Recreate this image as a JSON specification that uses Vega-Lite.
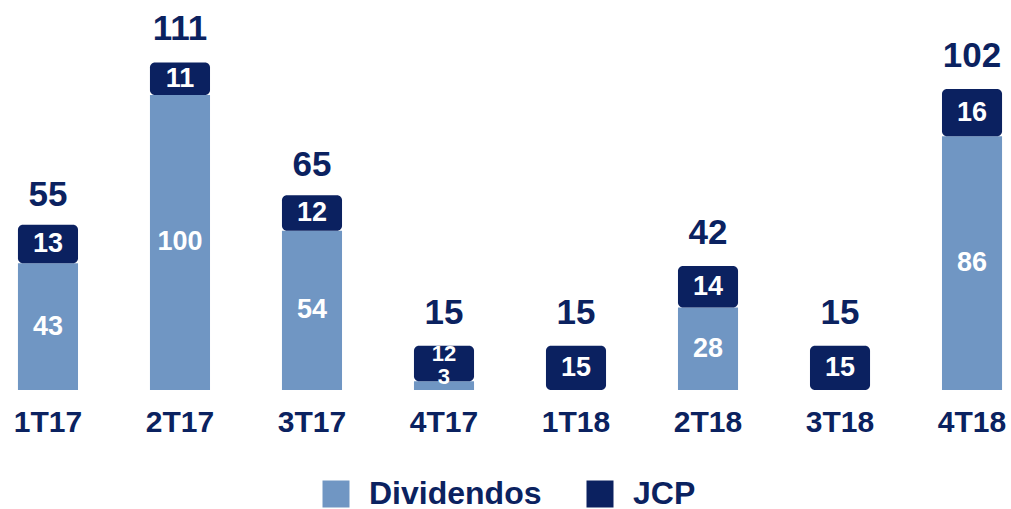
{
  "$schema": "https://vega.github.io/schema/vega-lite/v6.json",
  "width": 1020,
  "height": 370,
  "autosize": {"type": "none"},
  "padding": {"left": 0, "top": 20, "right": 0, "bottom": 119},
  "background": "white",
  "config": {
    "view": {"stroke": null},
    "font": "Liberation Sans"
  },
  "datasets": {
    "parts": [
      {"trimestre": "1T17", "serie": "Dividendos", "ordem": 1, "valor": 43},
      {"trimestre": "1T17", "serie": "JCP", "ordem": 2, "valor": 13},
      {"trimestre": "2T17", "serie": "Dividendos", "ordem": 1, "valor": 100},
      {"trimestre": "2T17", "serie": "JCP", "ordem": 2, "valor": 11},
      {"trimestre": "3T17", "serie": "Dividendos", "ordem": 1, "valor": 54},
      {"trimestre": "3T17", "serie": "JCP", "ordem": 2, "valor": 12},
      {"trimestre": "4T17", "serie": "Dividendos", "ordem": 1, "valor": 3},
      {"trimestre": "4T17", "serie": "JCP", "ordem": 2, "valor": 12},
      {"trimestre": "1T18", "serie": "Dividendos", "ordem": 1, "valor": 0},
      {"trimestre": "1T18", "serie": "JCP", "ordem": 2, "valor": 15},
      {"trimestre": "2T18", "serie": "Dividendos", "ordem": 1, "valor": 28},
      {"trimestre": "2T18", "serie": "JCP", "ordem": 2, "valor": 14},
      {"trimestre": "3T18", "serie": "Dividendos", "ordem": 1, "valor": 0},
      {"trimestre": "3T18", "serie": "JCP", "ordem": 2, "valor": 15},
      {"trimestre": "4T18", "serie": "Dividendos", "ordem": 1, "valor": 86},
      {"trimestre": "4T18", "serie": "JCP", "ordem": 2, "valor": 16}
    ],
    "totals": [
      {"trimestre": "1T17", "total": 55},
      {"trimestre": "2T17", "total": 111},
      {"trimestre": "3T17", "total": 65},
      {"trimestre": "4T17", "total": 15},
      {"trimestre": "1T18", "total": 15},
      {"trimestre": "2T18", "total": 42},
      {"trimestre": "3T18", "total": 15},
      {"trimestre": "4T18", "total": 102}
    ]
  },
  "encoding": {
    "x": {
      "field": "trimestre",
      "type": "nominal",
      "sort": ["1T17", "2T17", "3T17", "4T17", "1T18", "2T18", "3T18", "4T18"],
      "scale": {"paddingInner": 0.545, "paddingOuter": 0.136},
      "axis": {
        "title": null,
        "domain": false,
        "ticks": false,
        "labelAngle": 0,
        "labelFont": "Liberation Sans",
        "labelFontWeight": "bold",
        "labelFontSize": 30,
        "labelColor": "#0b2260",
        "labelPadding": 17
      }
    }
  },
  "layer": [
    {
      "data": {"name": "parts"},
      "transform": [
        {"stack": "valor", "groupby": ["trimestre"], "sort": [{"field": "ordem"}], "as": ["y0", "y1"]},
        {"filter": "datum.serie === 'Dividendos'"}
      ],
      "mark": {"type": "bar"},
      "encoding": {
        "y": {"field": "y0", "type": "quantitative", "scale": {"domain": [0, 125.4], "nice": false, "zero": true}, "axis": null},
        "y2": {"field": "y1"},
        "color": {
          "field": "serie",
          "type": "nominal",
          "scale": {"domain": ["Dividendos", "JCP"], "range": ["#7096c3", "#0b2160"]},
          "legend": {
            "title": null,
            "orient": "none",
            "legendX": 320,
            "legendY": 458,
            "direction": "horizontal",
            "symbolType": "square",
            "symbolSize": 729,
            "symbolStrokeWidth": 0,
            "symbolOpacity": 1,
            "labelFont": "Liberation Sans",
            "labelFontWeight": "bold",
            "labelFontSize": 32,
            "labelColor": "#0b2260",
            "labelOffset": 17,
            "labelLimit": 400,
            "columnPadding": 42
          }
        }
      }
    },
    {
      "data": {"name": "parts"},
      "transform": [
        {"stack": "valor", "groupby": ["trimestre"], "sort": [{"field": "ordem"}], "as": ["y0", "y1"]},
        {"filter": "datum.serie === 'JCP'"}
      ],
      "mark": {"type": "bar", "cornerRadius": 5},
      "encoding": {
        "y": {"field": "y0", "type": "quantitative"},
        "y2": {"field": "y1"},
        "color": {"field": "serie", "type": "nominal"}
      }
    },
    {
      "data": {"name": "parts"},
      "transform": [
        {"stack": "valor", "groupby": ["trimestre"], "sort": [{"field": "ordem"}], "as": ["y0", "y1"]},
        {"filter": "datum.valor > 0 && datum.trimestre !== '4T17'"},
        {"calculate": "(datum.y0 + datum.y1) / 2", "as": "ymid"}
      ],
      "mark": {"type": "text", "color": "white", "fontWeight": "bold", "fontSize": 27, "baseline": "middle", "font": "Liberation Sans"},
      "encoding": {
        "y": {"field": "ymid", "type": "quantitative"},
        "text": {"field": "valor", "type": "quantitative"}
      }
    },
    {
      "data": {"name": "parts"},
      "transform": [
        {"stack": "valor", "groupby": ["trimestre"], "sort": [{"field": "ordem"}], "as": ["y0", "y1"]},
        {"filter": "datum.valor > 0 && datum.trimestre === '4T17'"},
        {"calculate": "(datum.y0 + datum.y1) / 2", "as": "ymid"}
      ],
      "mark": {"type": "text", "color": "white", "fontWeight": "bold", "fontSize": 22, "baseline": "middle", "dy": -9, "font": "Liberation Sans"},
      "encoding": {
        "y": {"field": "ymid", "type": "quantitative"},
        "text": {"field": "valor", "type": "quantitative"}
      }
    },
    {
      "data": {"name": "totals"},
      "mark": {"type": "text", "color": "#0b2260", "fontWeight": "bold", "fontSize": 35, "baseline": "alphabetic", "dy": -22, "font": "Liberation Sans"},
      "encoding": {
        "y": {"field": "total", "type": "quantitative"},
        "text": {"field": "total", "type": "quantitative"}
      }
    }
  ]
}
